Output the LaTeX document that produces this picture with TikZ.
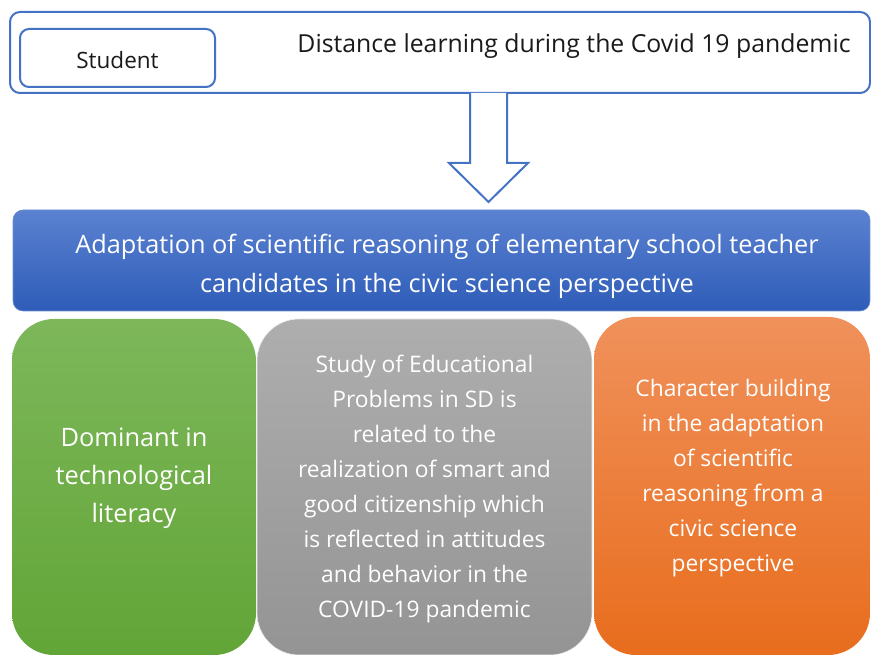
\documentclass[tikz,border=0pt]{standalone}
\usepackage{fontspec}
\setmainfont{Open Sans}
\definecolor{frameblue}{HTML}{4472C4}
\definecolor{bantop}{HTML}{5B82D1}
\definecolor{banbot}{HTML}{2E5CB8}
\definecolor{grtop}{HTML}{7DB75A}
\definecolor{grbot}{HTML}{62A537}
\definecolor{gytop}{HTML}{AEAEAE}
\definecolor{gybot}{HTML}{949494}
\definecolor{ortop}{HTML}{F0915B}
\definecolor{orbot}{HTML}{E86D1D}
\definecolor{ink}{HTML}{1A1A1A}
\tikzset{
  frame/.style={draw=frameblue, line width=2pt, fill=white, inner sep=0pt},
  card/.style={inner sep=0pt, rounded corners=42pt},
  cardtext/.style={text=white, align=center, inner sep=0pt, font=\fontsize{22.8}{35}\selectfont},
}
\begin{document}
\begin{tikzpicture}[x=1pt,y=-1pt]
\useasboundingbox (0,0) rectangle (871,655);
% top frame
\node[frame, rounded corners=10pt, minimum width=860pt, minimum height=81pt] (top) at (440,52.5) {};
\node[frame, rounded corners=9pt, minimum width=195pt, minimum height=58pt] (student) at (117.5,58) {};
\node[text=ink, inner sep=0pt, font=\fontsize{22.5}{26}\selectfont] (stext) at (117.5,60) {Student};
\node[text=ink, font=\fontsize{24.8}{28}\selectfont, inner sep=0pt] (dist) at (574,46) {Distance learning during the Covid 19 pandemic};
% banner
\node[inner sep=0pt, rounded corners=10pt, top color=bantop, bottom color=banbot, draw=frameblue!80, line width=0.6pt, minimum width=857pt, minimum height=101pt] (banner) at (441.5,260.5) {};
\node[text=white, align=center, inner sep=0pt, font=\fontsize{25.3}{39}\selectfont] (bantext) at (447,266) {Adaptation of scientific reasoning of elementary school teacher\\candidates in the civic science perspective};
% arrow from top frame to banner
\coordinate (a1) at (470,93);
\coordinate (a2) at (507,93);
\draw[frameblue, line width=2pt, fill=white, line join=miter]
  (a1) -- (470,163) -- (449,163) -- (488.5,202) -- (528,163) -- (507,163) -- (a2);
% cards
\node[card, top color=grtop, bottom color=grbot, minimum width=244pt, minimum height=336pt] (green) at (134,487) {};
\node[card, top color=gytop, bottom color=gybot, draw=white!85!gray, line width=0.6pt, minimum width=335pt, minimum height=336pt] (gray) at (424.5,487) {};
\node[card, top color=ortop, bottom color=orbot, minimum width=276pt, minimum height=338pt] (orange) at (732,486) {};
\node[cardtext, font=\fontsize{25.4}{38}\selectfont] (gtext) at (134,478) {Dominant in\\technological\\literacy};
\node[cardtext] (ytext) at (424.5,489) {Study of Educational\\Problems in SD is\\related to the\\realization of smart and\\good citizenship which\\is reflected in attitudes\\and behavior in the\\COVID-19 pandemic};
\node[cardtext] (otext) at (733,478) {Character building\\in the adaptation\\of scientific\\reasoning from a\\civic science\\perspective};
\end{tikzpicture}
\end{document}
